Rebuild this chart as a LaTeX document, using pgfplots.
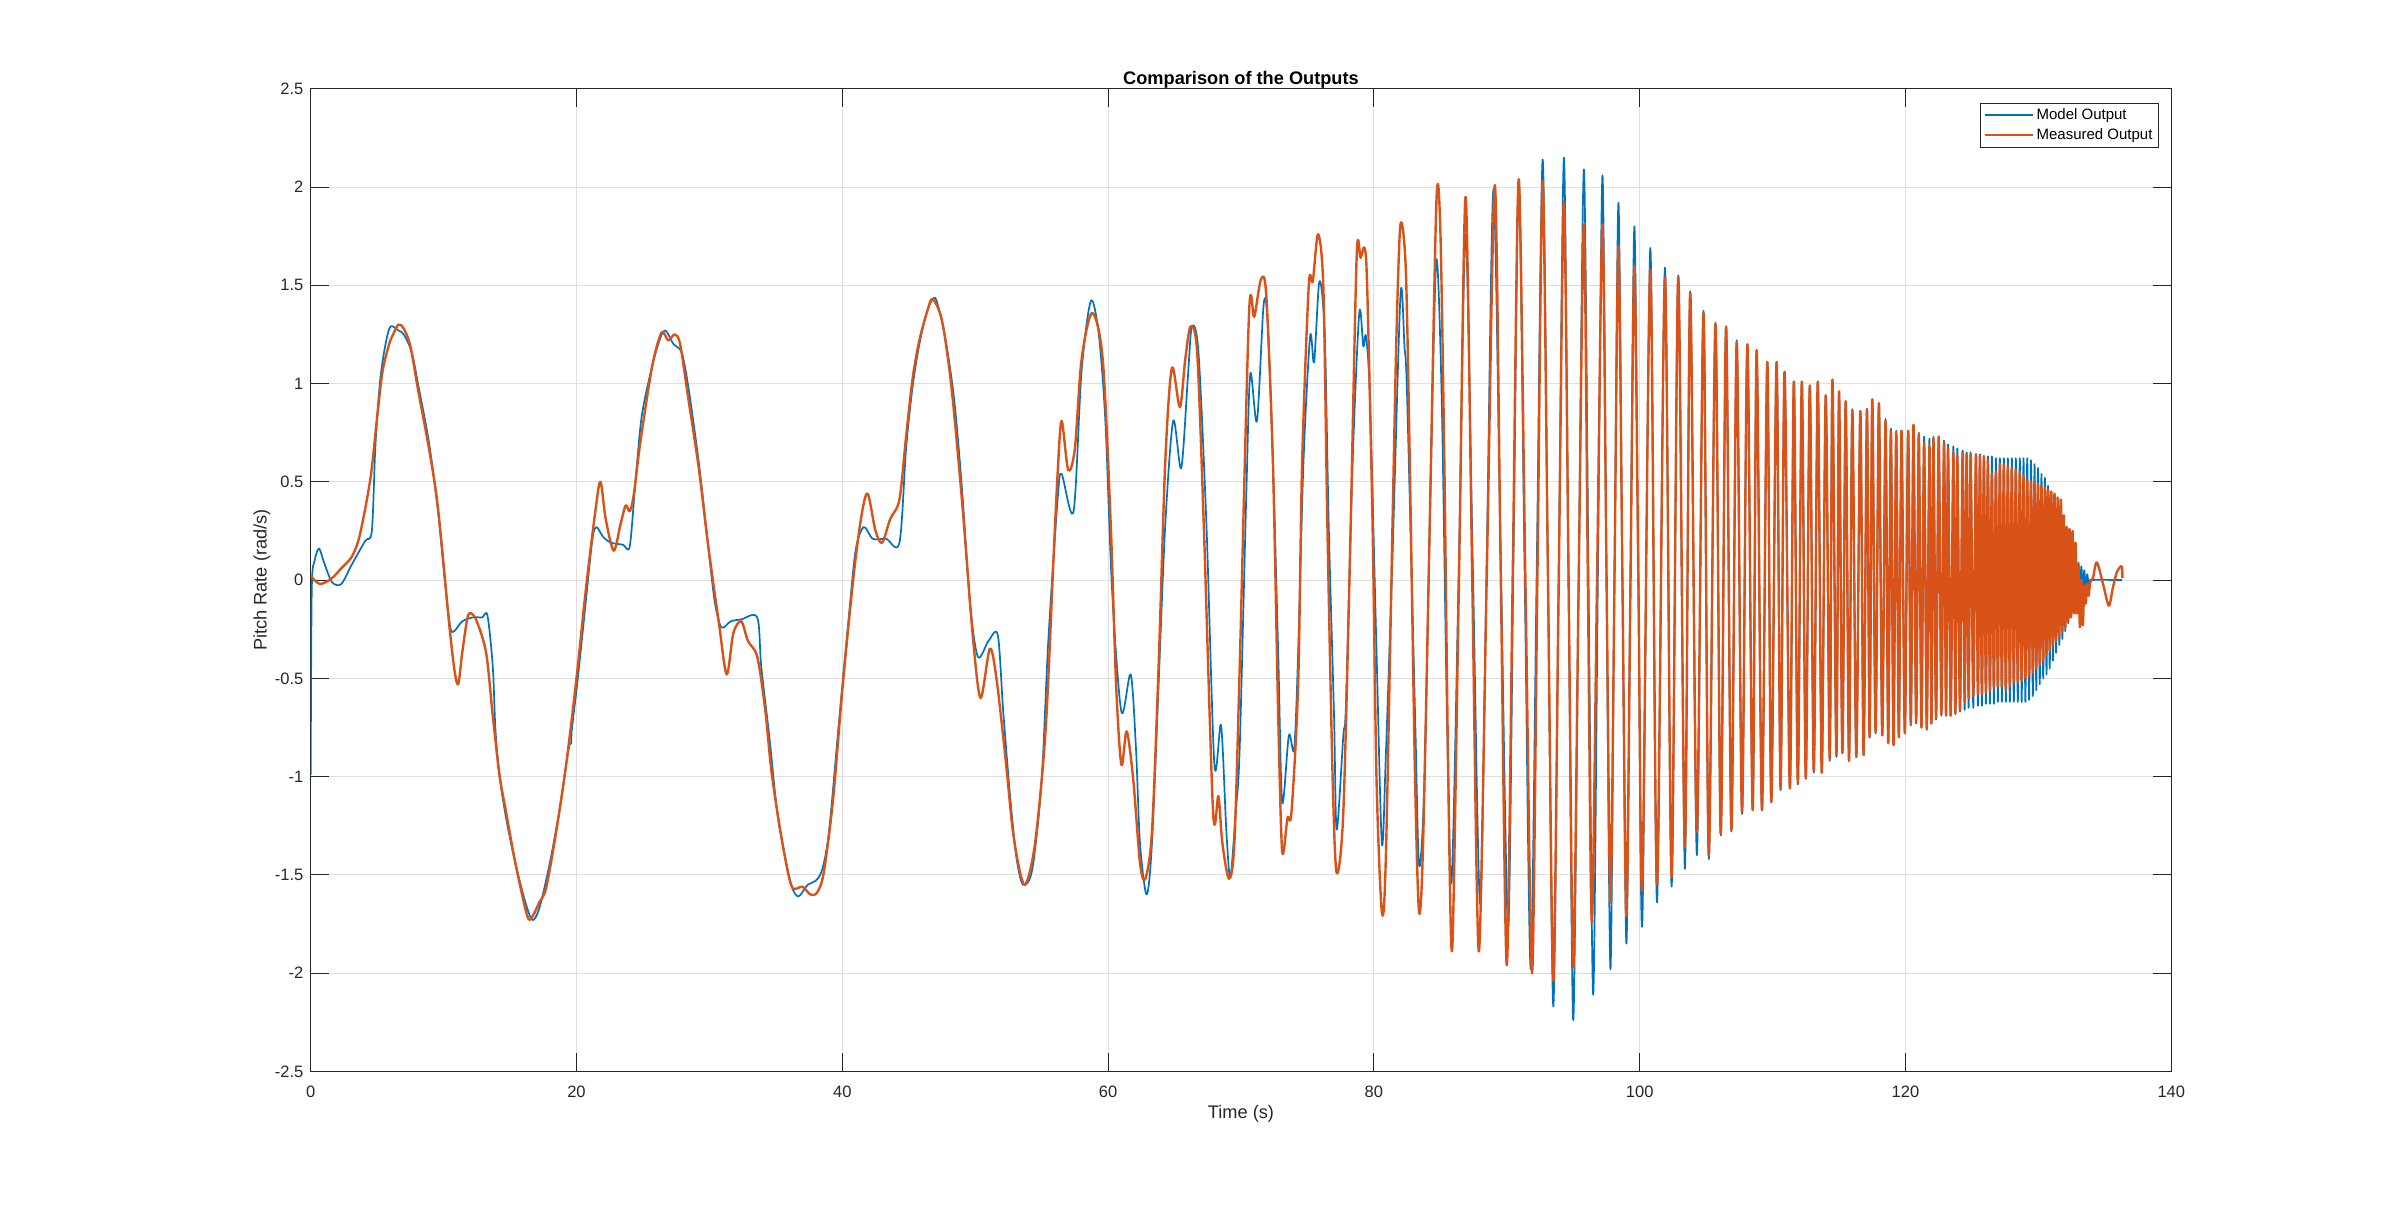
\documentclass[border=0pt]{standalone}
\usepackage{fontspec}
\setmainfont{Liberation Sans}
\usepackage{pgfplots}
\pgfplotsset{compat=1.18}
\definecolor{mblue}{rgb}{0,0.447,0.741}
\definecolor{mred}{rgb}{0.85,0.325,0.098}
\definecolor{axgray}{rgb}{0.15,0.15,0.15}
\definecolor{gridgray}{rgb}{0.875,0.875,0.875}
\begin{document}
\begin{tikzpicture}
\begin{axis}[
  scale only axis, width=930.3pt, height=491.3pt,
  xmin=0, xmax=140, ymin=-2.5, ymax=2.5,
  xtick={0,20,40,60,80,100,120,140},
  ytick={-2.5,-2,-1.5,-1,-0.5,0,0.5,1,1.5,2,2.5},
  xticklabels={0,20,40,60,80,100,120,140},
  yticklabels={-2.5,-2,-1.5,-1,-0.5,0,0.5,1,1.5,2,2.5},
  tick align=inside, tick pos=both,
  xticklabel pos=bottom, yticklabel pos=left,
  major tick length=9.3pt,
  every tick/.style={axgray, line width=0.5pt},
  axis line style={axgray, line width=0.5pt},
  grid=major, major grid style={gridgray, line width=0.5pt},
  ticklabel style={font=\fontsize{8.25}{10}\selectfont, text=axgray, inner sep=0pt},
  xticklabel style={anchor=base, yshift=-13.2pt},
  yticklabel style={anchor=east, xshift=-3.5pt},
  title={Comparison of the Outputs},
  title style={font=\bfseries\fontsize{9.1}{11}\selectfont, at={(axis description cs:0.5,1.0079)}, anchor=base, yshift=-7.5pt, inner sep=0pt},
  xlabel={Time (s)},
  xlabel style={font=\fontsize{9.1}{11}\selectfont, text=axgray, at={(axis description cs:0.5,-0.0484)}, anchor=base, inner sep=0pt},
  ylabel={Pitch Rate (rad/s)},
  ylabel style={font=\fontsize{9.1}{11}\selectfont, text=axgray, at={(axis description cs:-0.02365,0.5)}, anchor=base, inner sep=0pt},
  legend cell align=left,
  legend image code/.code={\draw[#1, line width=1pt] (0pt,0pt) -- (24pt,0pt);},
  legend style={at={(0.99323,0.98524)}, anchor=north east, draw=axgray, line width=0.5pt,
    font=\fontsize{7.5}{9}\selectfont, inner xsep=1.6pt, inner ysep=1.25pt, row sep=0.8pt,
    nodes={inner xsep=1.25pt, inner ysep=1pt, text height=5.6pt, text depth=1.6pt}},
  every axis plot/.append style={smooth, tension=0.5, line join=round},
]
\addplot[mblue, line width=0.85pt] coordinates {
(0,-0.99) (0.08,-0.05) (0.3,0.1) (0.63,0.16) (1.0,0.09) (1.6,-0.01) (2.3,-0.02) (3.1,0.08) (4.1,0.2) (4.6,0.25) (4.86,0.67) (5.2,1.0) (5.6,1.19) (6.0,1.29) (6.6,1.27) (7.0,1.25) (7.6,1.16) (8.1,0.99) (8.9,0.70) (9.6,0.34) (10.1,-0.01) (10.5,-0.24) (10.8,-0.26) (11.4,-0.21) (12.2,-0.19) (12.9,-0.19) (13.3,-0.18) (13.7,-0.44) (13.9,-0.76) (14.2,-0.99) (14.7,-1.21) (15.4,-1.44) (16.2,-1.65) (16.7,-1.73) (17.2,-1.67) (17.9,-1.47) (18.7,-1.18) (19.4,-0.86) (19.6,-0.83) (19.65,-0.76) (20.1,-0.5) (20.7,-0.11) (21.2,0.21) (21.5,0.27) (22.0,0.22) (22.6,0.19) (23.5,0.18) (24.0,0.17)
(24.4,0.47) (24.9,0.83) (25.7,1.09) (26.3,1.23) (26.7,1.27) (27.3,1.2) (27.9,1.16) (28.4,0.99) (29.2,0.6) (29.9,0.18) (30.4,-0.11) (30.9,-0.24) (31.6,-0.21) (32.4,-0.2) (33.6,-0.19) (33.9,-0.44) (34.5,-0.79) (35.1,-1.18) (35.7,-1.41) (36.2,-1.56) (36.7,-1.61) (37.4,-1.55) (38.0,-1.53) (38.5,-1.47) (39.0,-1.28) (39.7,-0.76) (40.5,-0.18) (41.0,0.15) (41.6,0.27) (42.3,0.21) (43.3,0.21) (44.3,0.19) (44.8,0.67) (45.3,0.99) (45.8,1.2) (46.3,1.35) (46.8,1.43) (47.1,1.42)
(47.7,1.25) (48.4,0.93) (49.0,0.47) (49.6,-0.11) (50.2,-0.39) (51.0,-0.31) (51.7,-0.28) (52.1,-0.66) (52.6,-1.08) (53.1,-1.41) (53.6,-1.55) (54.3,-1.47) (55.0,-1.02) (55.5,-0.31) (56.2,0.41) (56.5,0.54) (57.4,0.35) (58.0,1.06) (58.7,1.42) (59.3,1.25) (59.8,0.8) (60.3,-0.05) (61.0,-0.67) (61.7,-0.48) (62.1,-0.86) (62.4,-1.34) (62.9,-1.6) (63.3,-1.34) (63.8,-0.53) (64.3,0.28) (64.9,0.81) (65.5,0.57) (66.0,1.03) (66.3,1.29) (66.8,1.16) (67.4,0.28) (68.0,-0.94) (68.5,-0.74) (68.9,-1.28) (69.2,-1.51) (69.6,-1.18) (69.9,-0.86)
(70.4,0.44) (70.7,1.05) (71.2,0.81) (71.7,1.4) (72.0,1.32) (72.4,0.6) (72.8,-0.37) (73.1,-1.13) (73.6,-0.79) (74.0,-0.86) (74.3,-0.37) (74.7,0.6) (75.2,1.24) (75.5,1.11) (75.9,1.52) (76.3,1.25) (76.6,0.28) (77.0,-0.69) (77.2,-1.27) (77.7,-0.79) (77.9,-0.63) (78.4,0.6) (78.9,1.36) (79.2,1.19) (79.4,1.24) (79.7,0.93) (80.2,-0.37) (80.6,-1.34) (80.9,-0.89) (81.4,0.12) (82.0,1.45) (82.3,1.19) (82.5,0.93) (83.1,-0.69) (83.4,-1.45) (83.8,-1.02) (84.3,0.6) (84.7,1.63) (85.1,0.93) (85.5,-0.69) (85.85,-1.53)
(86.4,0.1) (86.9,1.76) (87.45,0.05) (88.0,-1.65) (88.5,0.15) (89.0,1.99) (89.55,0.1) (90.1,-1.77) (90.5,0.1) (90.9,2.03) (91.35,0.0) (91.8,-1.98) (92.25,0.05) (92.7,2.14) (93.1,0.0) (93.5,-2.17) (93.9,0.0) (94.3,2.15) (94.65,-0.05) (95.0,-2.24) (95.4,-0.05) (95.8,2.09) (96.15,0.0) (96.5,-2.11) (96.85,0.0) (97.2,2.06) (97.5,0.0) (97.8,-1.98) (98.1,0.0) (98.4,1.92) (98.7,0.0) (99.0,-1.85) (99.3,0.0) (99.6,1.8) (99.9,0.0) (100.2,-1.74)
(100.8,1.69) (101.3,-1.64) (101.9,1.59) (102.4,-1.56) (102.9,1.55) (103.4,-1.47) (103.8,1.47) (104.3,-1.4) (104.8,1.37) (105.2,-1.42) (105.7,1.31) (106.1,-1.3) (106.5,1.29) (106.9,-1.28) (107.3,1.22) (107.7,-1.19) (108.1,1.2) (108.5,-1.17) (108.8,1.17) (109.2,-1.17) (109.6,1.11) (109.9,-1.13) (110.3,1.11) (110.6,-1.07) (110.9,1.06) (111.3,-1.06) (111.6,1.01) (111.9,-1.04) (112.2,1.01) (112.5,-1.01) (112.8,0.99) (113.1,-0.98) (113.4,1.01) (113.7,-0.98) (114.0,0.94) (114.3,-0.92) (114.5,1.02) (114.8,-0.9) (115.0,0.96)
(115.25,-0.88) (115.5,0.91) (115.75,-0.92) (116.0,0.87) (116.3,-0.90) (116.6,0.86) (116.85,-0.89) (117.1,0.87) (117.3,-0.80) (117.5,0.92) (117.75,-0.78) (118.0,0.90) (118.25,-0.79) (118.5,0.82) (118.7,-0.83) (118.9,0.77) (119.1,-0.84) (119.3,0.76) (119.5,-0.80) (119.7,0.76) (119.95,-0.78) (120.2,0.76) (120.4,-0.74) (120.6,0.79) (120.8,-0.73) (121.0,0.75) (121.2,-0.75) (121.4,0.73) (121.6,-0.76) (121.8,0.72) (121.95,-0.73) (122.1,0.73) (122.3,-0.71) (122.5,0.73) (122.7,-0.69) (122.9,0.71) (123.05,-0.69) (123.2,0.69) (123.4,-0.69) (123.6,0.68) (123.75,-0.68) (123.9,0.67) (124.1,-0.67) (124.3,0.66) (124.45,-0.66) (124.6,0.65) (124.75,-0.65) (124.9,0.65) (125.1,-0.65) (125.3,0.64) (125.45,-0.64) (125.6,0.64) (125.75,-0.64) (125.9,0.63) (126.05,-0.63) (126.2,0.63) (126.35,-0.63) (126.5,0.63) (126.65,-0.63) (126.8,0.62) (126.95,-0.62) (127.1,0.62)
(127.25,-0.62) (127.4,0.62) (127.55,-0.62) (127.7,0.62) (127.85,-0.62) (128.0,0.62) (128.15,-0.62) (128.3,0.62) (128.45,-0.62) (128.6,0.62) (128.74,-0.62) (128.88,0.62) (129.02,-0.62) (129.16,0.62) (129.3,-0.61) (129.44,0.61) (129.58,-0.59) (129.71,0.59) (129.84,-0.56) (129.97,0.57) (130.1,-0.53) (130.23,0.54) (130.36,-0.50) (130.49,0.52) (130.61,-0.48) (130.73,0.48) (130.85,-0.45) (130.97,0.44) (131.09,-0.41) (131.21,0.41) (131.33,-0.37) (131.45,0.38) (131.57,-0.33) (131.69,0.35) (131.8,-0.30) (131.91,0.31) (132.02,-0.26) (132.13,0.27) (132.24,-0.22) (132.35,0.24) (132.46,-0.18) (132.57,0.19) (132.68,-0.14) (132.79,0.15) (132.9,-0.11) (133.01,0.09) (133.12,-0.07) (133.23,0.07) (133.34,-0.05) (133.45,0.05) (133.56,-0.04) (133.67,0.03) (133.78,-0.02) (133.9,0) (136.3,0)
};
\addlegendentry{Model Output}
\addplot[mred, line width=1.2pt] coordinates {
(0,0.02) (0.7,-0.02) (1.6,0.01) (2.3,0.06) (3.1,0.12) (3.7,0.23) (4.5,0.52) (5.0,0.83) (5.4,1.06) (5.9,1.2) (6.2,1.25) (6.6,1.30) (7.0,1.28) (7.5,1.19) (8.1,0.96) (8.9,0.67) (9.5,0.41) (10.0,0.08) (10.4,-0.21) (10.8,-0.45) (11.1,-0.53) (11.4,-0.37) (11.8,-0.19) (12.1,-0.17) (12.5,-0.21) (13.2,-0.37) (13.7,-0.69) (14.2,-0.99) (14.7,-1.18) (15.4,-1.44) (16.3,-1.71) (16.7,-1.71) (17.2,-1.64) (17.7,-1.57) (18.4,-1.31) (19.2,-0.95) (20.0,-0.5) (20.7,-0.05) (21.4,0.34) (21.8,0.50) (22.2,0.31) (22.8,0.15) (23.3,0.28) (23.7,0.38) (24.0,0.35)
(24.3,0.43) (24.8,0.7) (25.7,1.09) (26.4,1.26) (26.9,1.22) (27.4,1.25) (27.8,1.2) (28.4,0.93) (29.2,0.57) (29.9,0.18) (30.7,-0.21) (31.3,-0.48) (31.8,-0.27) (32.4,-0.21) (32.9,-0.31) (33.6,-0.39) (34.2,-0.66) (34.7,-0.99) (35.5,-1.34) (36.2,-1.56) (37.0,-1.56) (37.6,-1.60) (38.1,-1.59) (38.6,-1.49) (39.3,-1.12) (40.0,-0.56) (40.8,-0.01) (41.4,0.31) (41.9,0.44) (42.5,0.25) (43.0,0.19) (43.6,0.31) (44.3,0.41) (44.8,0.73) (45.3,1.03) (45.8,1.22) (46.4,1.37) (46.8,1.43)
(47.5,1.32) (48.2,0.99) (49.0,0.41) (49.8,-0.27) (50.4,-0.6) (51.1,-0.35) (51.6,-0.5) (52.3,-0.92) (52.9,-1.31) (53.7,-1.55) (54.5,-1.34) (55.3,-0.76) (55.9,0.12) (56.2,0.54) (56.5,0.81) (57.0,0.56) (57.5,0.67) (58.0,1.12) (58.8,1.36) (59.6,1.12) (60.2,0.28) (60.6,-0.53) (61.0,-0.94) (61.4,-0.77) (61.9,-1.02) (62.4,-1.44) (62.8,-1.52) (63.3,-1.28) (63.8,-0.44) (64.3,0.6) (64.8,1.08) (65.4,0.88) (65.8,1.12) (66.2,1.29) (66.7,1.16) (67.2,0.28) (67.9,-1.18) (68.3,-1.10) (68.6,-1.34) (69.1,-1.52) (69.5,-1.34) (69.9,-0.45)
(70.6,1.35) (71.0,1.34) (71.5,1.53) (71.9,1.45) (72.4,0.6) (72.8,-0.69) (73.1,-1.38) (73.5,-1.21) (73.8,-1.18) (74.3,-0.53) (74.6,0.6) (75.1,1.5) (75.4,1.52) (75.8,1.76) (76.2,1.48) (76.5,0.28) (76.9,-1.02) (77.2,-1.49) (77.7,-1.18) (78.2,0.12) (78.7,1.64) (79.0,1.64) (79.3,1.69) (79.5,1.48) (79.9,0.28) (80.2,-1.02) (80.6,-1.69) (80.9,-1.41) (81.4,0.28) (81.7,1.25) (82.0,1.81) (82.4,1.58) (82.7,0.6) (83.1,-1.02) (83.4,-1.69) (83.7,-1.34) (84.2,0.28) (84.7,1.92) (85.0,1.78) (85.3,0.6) (85.6,-1.02) (85.9,-1.87)
(86.4,0.0) (86.9,1.95) (87.4,0.0) (87.9,-1.89) (88.5,0.05) (89.1,2.01) (89.55,0.0) (90.0,-1.96) (90.45,0.05) (90.9,2.04) (91.4,0.0) (91.9,-2.0) (92.3,0.0) (92.7,2.03) (93.1,0.0) (93.5,-2.04) (93.9,-0.05) (94.3,1.92) (94.65,0.0) (95.0,-1.97) (95.4,-0.05) (95.8,1.81) (96.1,0.0) (96.4,-1.74) (96.8,0.05) (97.2,1.81) (97.5,0.05) (97.8,-1.64) (98.1,0.0) (98.4,1.7) (98.7,0.0) (99.0,-1.71) (99.3,-0.05) (99.6,1.6) (99.9,0.0) (100.2,-1.56)
(100.8,1.58) (101.3,-1.55) (101.9,1.54) (102.4,-1.51) (102.9,1.54) (103.4,-1.36) (103.8,1.46) (104.3,-1.28) (104.8,1.36) (105.2,-1.4) (105.7,1.30) (106.1,-1.29) (106.5,1.29) (106.9,-1.27) (107.3,1.21) (107.7,-1.18) (108.1,1.2) (108.5,-1.17) (108.8,1.17) (109.2,-1.17) (109.6,1.11) (109.9,-1.13) (110.3,1.11) (110.6,-1.06) (110.9,1.06) (111.3,-1.06) (111.6,1.01) (111.9,-1.03) (112.2,1.01) (112.5,-1.01) (112.8,0.99) (113.1,-0.97) (113.4,1.01) (113.7,-0.98) (114.0,0.94) (114.3,-0.91) (114.5,1.02) (114.8,-0.89) (115.0,0.96)
(115.25,-0.88) (115.5,0.91) (115.75,-0.92) (116.0,0.86) (116.3,-0.90) (116.6,0.86) (116.85,-0.89) (117.1,0.87) (117.3,-0.80) (117.5,0.92) (117.75,-0.77) (118.0,0.90) (118.25,-0.79) (118.5,0.81) (118.7,-0.83) (118.9,0.76) (119.1,-0.84) (119.3,0.75) (119.5,-0.80) (119.7,0.76) (119.95,-0.78) (120.2,0.76) (120.4,-0.73) (120.6,0.79) (120.8,-0.72) (121.0,0.74) (121.2,-0.75) (121.4,0.70) (121.6,-0.76) (121.8,0.68) (121.95,-0.73) (122.1,0.72) (122.3,-0.70) (122.5,0.73) (122.7,-0.68) (122.9,0.70) (123.05,-0.69) (123.2,0.67) (123.4,-0.69) (123.6,0.65) (123.75,-0.68) (123.9,0.63) (124.1,-0.66) (124.3,0.65) (124.45,-0.62) (124.6,0.64) (124.75,-0.60) (124.9,0.64) (125.1,-0.59) (125.3,0.64) (125.45,-0.58) (125.6,0.63) (125.75,-0.58) (125.9,0.63) (126.05,-0.57) (126.2,0.61) (126.35,-0.56) (126.5,0.54) (126.65,-0.55) (126.8,0.55) (126.95,-0.54) (127.1,0.59)
(127.25,-0.54) (127.4,0.59) (127.55,-0.56) (127.7,0.58) (127.85,-0.54) (128.0,0.57) (128.15,-0.52) (128.3,0.56) (128.45,-0.52) (128.6,0.55) (128.74,-0.51) (128.88,0.53) (129.02,-0.50) (129.16,0.51) (129.3,-0.49) (129.44,0.50) (129.58,-0.47) (129.71,0.50) (129.84,-0.45) (129.97,0.49) (130.1,-0.43) (130.23,0.48) (130.36,-0.41) (130.49,0.47) (130.61,-0.38) (130.73,0.46) (130.85,-0.36) (130.97,0.45) (131.09,-0.33) (131.21,0.44) (131.33,-0.31) (131.45,0.42) (131.57,-0.29) (131.69,0.41) (131.8,-0.26) (131.91,0.33) (132.02,-0.24) (132.13,0.27) (132.24,-0.21) (132.35,0.26) (132.46,-0.19) (132.57,0.25) (132.68,-0.17) (132.79,0.19) (132.9,-0.17) (133.01,0.08) (133.12,-0.24) (133.23,0.0) (133.34,-0.23) (133.45,-0.03) (133.56,-0.12) (133.67,-0.02) (133.78,-0.08) (133.9,-0.01) (134.1,0.01) (134.4,0.09) (134.9,-0.03) (135.3,-0.13) (135.6,-0.04) (135.9,0.04) (136.2,0.07) (136.3,0.06) (136.32,0.01)
};
\addlegendentry{Measured Output}
\end{axis}
\path ([xshift=-155.35pt,yshift=-67.3pt]current axis.south west) rectangle ([xshift=114.35pt,yshift=44.4pt]current axis.north east);
\end{tikzpicture}
\end{document}
